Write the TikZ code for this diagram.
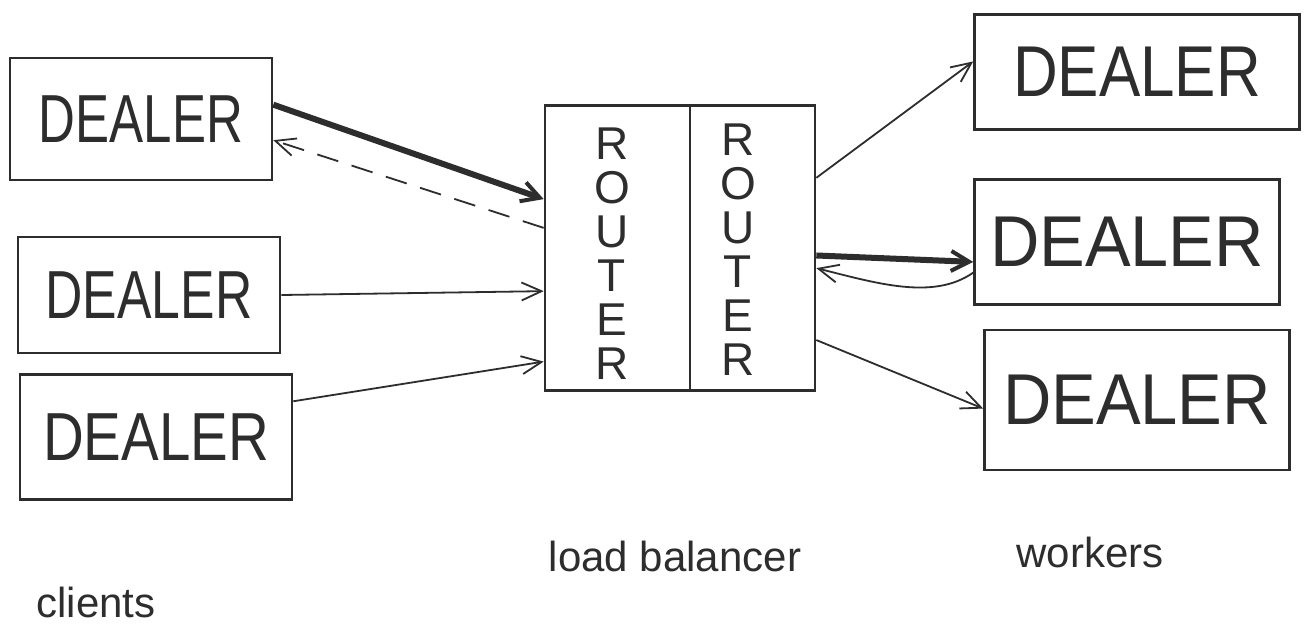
\documentclass[tikz,border=0pt]{standalone}
\usepackage{fontspec}
\setmainfont{Liberation Sans}
\usetikzlibrary{arrows.meta,calc}
\definecolor{ink}{RGB}{45,45,45}
\tikzset{
  boxed/.style={draw=ink, line width=2.6pt, rectangle, inner sep=0pt},
  dtext/.style={font=\fontsize{68}{70}\selectfont, text=ink},
  wtext/.style={font=\fontsize{72}{74}\selectfont, text=ink},
  rtext/.style={font=\fontsize{46}{44}\selectfont, text=ink, align=center},
  lbl/.style={font=\fontsize{42}{46}\selectfont, text=ink},
  thin/.style={draw=ink, line width=1.8pt, -{Straight Barb[length=20pt,width=18pt,line width=1.8pt]}},
  thick/.style={draw=ink, line width=6pt, -{Straight Barb[length=18pt,width=20pt,line width=4pt]}},
  back/.style={draw=ink, line width=1.8pt, -{Straight Barb[length=20pt,width=18pt,line width=1.8pt]}},
}
\newcommand{\dl}[1]{\scalebox{#1}[1]{DEALER}}
\begin{document}
\begin{tikzpicture}[x=1pt,y=-1pt]
\useasboundingbox[fill=white] (0,0) rectangle (1306,625);
% clients
\node[boxed, minimum width=262pt, minimum height=122pt, dtext] (c1) at (141,119) {\dl{0.75}};
\node[boxed, minimum width=262pt, minimum height=116pt, dtext] (c2) at (149,295) {\dl{0.76}};
\node[boxed, minimum width=272pt, minimum height=125pt, dtext] (c3) at (156,437) {\dl{0.83}};
% load balancer
\node[boxed, minimum width=270pt, minimum height=285pt] (lb) at (680,248) {};
\draw[draw=ink, line width=2.6pt] ($(lb.north)+(10,0)$) coordinate (dtop) -- ($(lb.south)+(10,0)$) coordinate (dbot);
\node[rtext] (r1) at (612,254) {R\\O\\U\\T\\E\\R};
\node[rtext] (r2) at (738,250) {R\\O\\U\\T\\E\\R};
% workers
\node[boxed, minimum width=325pt, minimum height=115pt, wtext] (w1) at (1137,72) {\dl{0.86}};
\node[boxed, minimum width=305pt, minimum height=125pt, wtext] (w2) at (1127,242) {\dl{0.95}};
\node[boxed, minimum width=305pt, minimum height=140pt, wtext] (w3) at (1137,400) {\dl{0.93}};
% labels
\node[lbl] (lc) at (96,602) {clients};
\node[lbl] (ll) at (675,556) {load balancer};
\node[lbl] (lw) at (1090,552) {workers};
% connectors left
\draw[thick] ($(c1.north east)!0.385!(c1.south east)$) -- ($(lb.north west)!0.33!(lb.south west)$);
\draw[back, dash pattern=on 22pt off 14pt] ($(lb.north west)!0.43!(lb.south west)$) -- ($(c1.north east)!0.67!(c1.south east)$);
\draw[thin] (c2.east) -- ($(lb.north west)!0.65!(lb.south west)$);
\draw[thin] ($(c3.north east)!0.22!(c3.south east)$) -- ($(lb.north west)!0.895!(lb.south west)$);
% connectors right
\draw[thin] ($(lb.north east)!0.256!(lb.south east)$) -- ($(w1.north west)!0.41!(w1.south west)$);
\draw[thick] ($(lb.north east)!0.526!(lb.south east)$) -- ($(w2.north west)!0.656!(w2.south west)$);
\draw[back] ($(w2.north west)!0.74!(w2.south west)$) .. controls +(-40,28) and +(60,15) .. ($(lb.north east)!0.57!(lb.south east)$);
\draw[thin] ($(lb.north east)!0.82!(lb.south east)$) -- ($(w3.north west)!0.56!(w3.south west)$);
\end{tikzpicture}
\end{document}
